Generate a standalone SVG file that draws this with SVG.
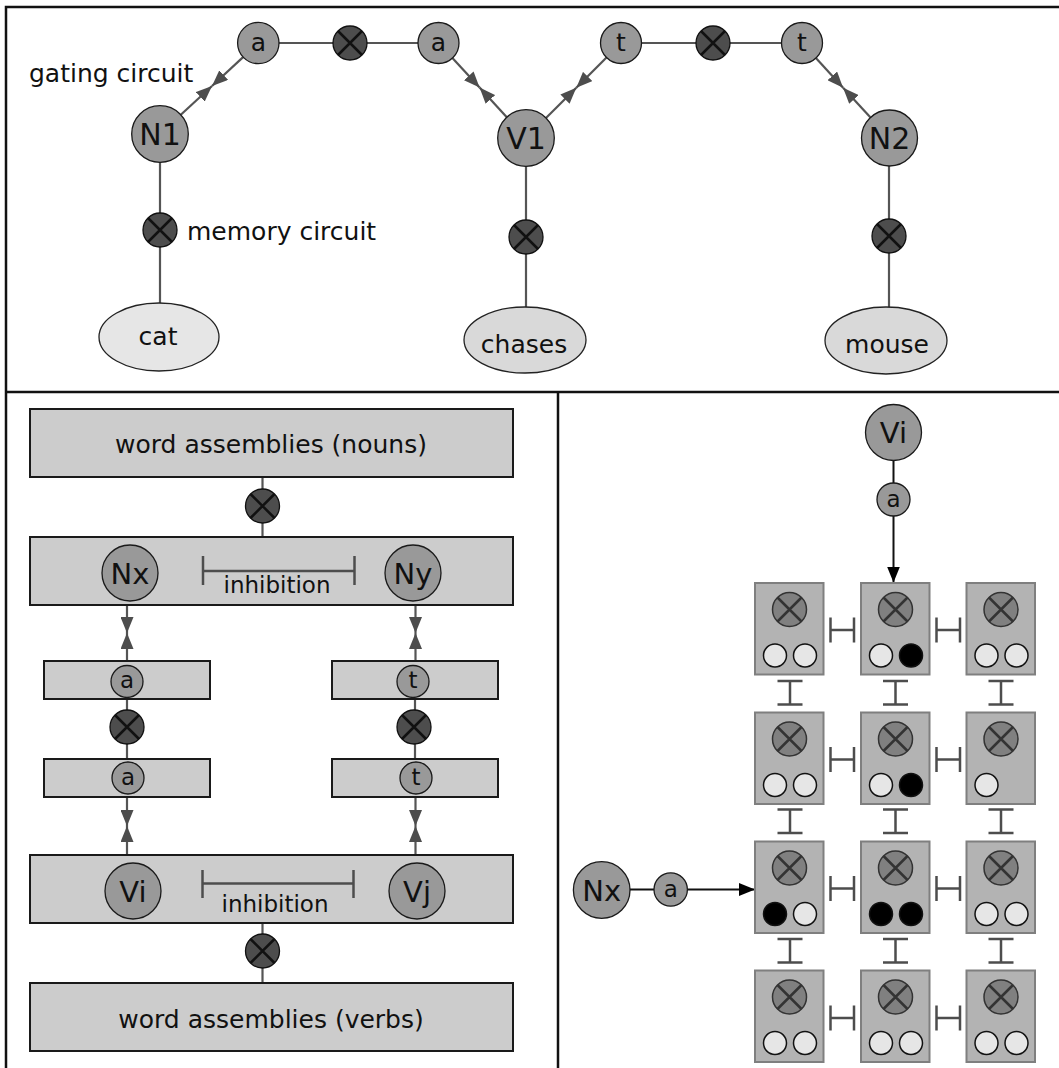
<svg xmlns="http://www.w3.org/2000/svg" xmlns:xlink="http://www.w3.org/1999/xlink" width="1059" height="1068" viewBox="0 0 1059 1068">
  <style>
    text { font-family: "DejaVu Sans", "Liberation Sans", sans-serif; fill: #111; text-anchor: middle; }
    .frame { stroke: #111; stroke-width: 2.5; fill: none; }
    .node { fill: #999999; stroke: #1a1a1a; stroke-width: 1.3; }
    .xdark { fill: #4d4d4d; stroke: #111; stroke-width: 1.3; }
    .xline { stroke: #111; stroke-width: 2.5; fill: none; }
    .xgrid { fill: #808080; stroke: #333; stroke-width: 1.5; }
    .xgline { stroke: #333; stroke-width: 2.5; fill: none; }
    .word { fill: #e6e6e6; stroke: #222; stroke-width: 1.3; }
    .word2 { fill: #d9d9d9; stroke: #222; stroke-width: 1.3; }
    .panel { fill: #cccccc; stroke: #1a1a1a; stroke-width: 2; }
    .link { stroke: #555; stroke-width: 2.2; fill: none; }
    .arr { stroke: #555; stroke-width: 2.2; fill: none; marker-end: url(#head); }
    .barr { stroke: #111; stroke-width: 2; fill: none; marker-end: url(#bhead); }
    .inh { stroke: #4d4d4d; stroke-width: 2.5; fill: none; }
    .cell { fill: #b3b3b3; stroke: #7f7f7f; stroke-width: 2; }
    .off { fill: #e6e6e6; stroke: #111; stroke-width: 1.5; }
    .on { fill: #000; stroke: #111; stroke-width: 1.5; }
    .big { font-size: 30px; }
    .mid { font-size: 29px; }
    .lbl { font-size: 25px; }
    .sm { font-size: 23px; }
  </style>
  <defs>
    <marker id="head" markerUnits="userSpaceOnUse" markerWidth="17" markerHeight="13" refX="16" refY="6.5" orient="auto">
      <path d="M0,0 L16,6.5 L0,13 Z" fill="#4d4d4d"/>
    </marker>
    <marker id="bhead" markerUnits="userSpaceOnUse" markerWidth="17" markerHeight="13" refX="16" refY="6.5" orient="auto">
      <path d="M0,0 L16,6.5 L0,13 Z" fill="#000"/>
    </marker>
    <!-- dark multiplicative gate -->
    <g id="xd">
      <circle r="17" class="xdark"/>
      <path d="M-12,-12 L12,12 M12,-12 L-12,12" class="xline"/>
    </g>
    <!-- gate inside a grid cell -->
    <g id="xg">
      <circle r="17" class="xgrid"/>
      <path d="M-12,-12 L12,12 M12,-12 L-12,12" class="xgline"/>
    </g>
    <!-- horizontal inhibition symbol -->
    <path id="hbar" d="M0,-12.5 V12.5 M0,0 H23.5 M23.5,-12.5 V12.5" class="inh"/>
    <!-- vertical inhibition symbol -->
    <path id="ibar" d="M-12.5,0 H12.5 M0,0 V23.5 M-12.5,23.5 H12.5" class="inh"/>
    <rect id="cellbox" width="68.5" height="91.5" class="cell"/>
  </defs>

  <!-- panel frame -->
  <g id="frame">
    <path d="M6,1068 V7 H1059" class="frame"/>
    <path d="M6,392 H1059 M558,392 V1068" class="frame" stroke-width="2.2"/>
  </g>

  <!-- connectors -->
  <g id="connectors">
    <!-- top: gating circuits -->
    <line x1="279" y1="43" x2="333" y2="43" class="link"/>
    <line x1="367" y1="43" x2="418" y2="43" class="link"/>
    <line x1="641.5" y1="43" x2="696" y2="43" class="link"/>
    <line x1="730" y1="43" x2="781.5" y2="43" class="link"/>
    <line x1="243.1" y1="57.1" x2="212" y2="86" class="arr"/>
    <line x1="180.8" y1="114.8" x2="212" y2="86" class="arr"/>
    <line x1="452.4" y1="58.1" x2="479.6" y2="87.6" class="arr"/>
    <line x1="506.8" y1="117.2" x2="479.6" y2="87.6" class="arr"/>
    <line x1="606.5" y1="57.5" x2="576.3" y2="87.8" class="arr"/>
    <line x1="546" y1="118" x2="576.3" y2="87.8" class="arr"/>
    <line x1="815.9" y1="58.1" x2="843.1" y2="87.7" class="arr"/>
    <line x1="870.3" y1="117.2" x2="843.1" y2="87.7" class="arr"/>
    <!-- top: memory circuits -->
    <line x1="160" y1="162" x2="160" y2="213" class="link"/>
    <line x1="160" y1="247" x2="160" y2="303" class="link"/>
    <line x1="526" y1="166" x2="526" y2="220" class="link"/>
    <line x1="526" y1="254" x2="526" y2="307" class="link"/>
    <line x1="889" y1="166" x2="889" y2="219" class="link"/>
    <line x1="889" y1="253" x2="889" y2="307" class="link"/>
    <!-- left panel -->
    <line x1="262.5" y1="477" x2="262.5" y2="537" class="link"/>
    <line x1="262.5" y1="923" x2="262.5" y2="983" class="link"/>
    <line x1="127" y1="697" x2="127" y2="762" class="link"/>
    <line x1="415" y1="697" x2="415" y2="762" class="link"/>
    <line x1="127" y1="605" x2="127" y2="633" class="arr"/>
    <line x1="127" y1="661" x2="127" y2="633" class="arr"/>
    <line x1="415.5" y1="605" x2="415.5" y2="633" class="arr"/>
    <line x1="415.5" y1="661" x2="415.5" y2="633" class="arr"/>
    <line x1="127" y1="797" x2="127" y2="826" class="arr"/>
    <line x1="127" y1="855" x2="127" y2="826" class="arr"/>
    <line x1="415.5" y1="797" x2="415.5" y2="826" class="arr"/>
    <line x1="415.5" y1="855" x2="415.5" y2="826" class="arr"/>
    <!-- right panel -->
    <line x1="893.5" y1="460.5" x2="893.5" y2="483" stroke="#111" stroke-width="2"/>
    <line x1="893.5" y1="516" x2="893.5" y2="582.5" class="barr"/>
    <line x1="630" y1="889.5" x2="654" y2="889.5" stroke="#111" stroke-width="2"/>
    <line x1="687.4" y1="889.5" x2="755" y2="889.5" class="barr"/>
  </g>

  <!-- top panel nodes -->
  <g id="gate-a1"><circle cx="258.3" cy="43" r="20.7" class="node"/><text x="258.3" y="51" class="lbl">a</text></g>
  <g id="mem-a"><use xlink:href="#xd" x="350" y="43"/></g>
  <g id="gate-a2"><circle cx="438.5" cy="43" r="20.5" class="node"/><text x="438.5" y="51" class="lbl">a</text></g>
  <g id="gate-t1"><circle cx="621" cy="43" r="20.5" class="node"/><text x="621" y="51" class="lbl">t</text></g>
  <g id="mem-t"><use xlink:href="#xd" x="713" y="43"/></g>
  <g id="gate-t2"><circle cx="802" cy="43" r="20.5" class="node"/><text x="802" y="51" class="lbl">t</text></g>
  <g id="label-gating"><text x="29" y="82" class="lbl" style="text-anchor:start">gating circuit</text></g>

  <g id="N1"><circle cx="160" cy="134" r="28.3" class="node"/><text x="160" y="145" class="big">N1</text></g>
  <g id="V1"><circle cx="526" cy="138" r="28.3" class="node"/><text x="526" y="149" class="big">V1</text></g>
  <g id="N2"><circle cx="889.5" cy="138" r="28" class="node"/><text x="889.5" y="149" class="big">N2</text></g>

  <g id="mem-cat"><use xlink:href="#xd" x="160" y="230"/></g>
  <g id="label-memory"><text x="187" y="240" class="lbl" style="text-anchor:start">memory circuit</text></g>
  <g id="mem-chases"><use xlink:href="#xd" x="526" y="237"/></g>
  <g id="mem-mouse"><use xlink:href="#xd" x="889" y="236"/></g>

  <g id="cat"><ellipse cx="159" cy="337" rx="60" ry="34" class="word"/><text x="158" y="345" class="lbl">cat</text></g>
  <g id="chases"><ellipse cx="525" cy="340" rx="61" ry="33" class="word2"/><text x="524" y="353" class="lbl">chases</text></g>
  <g id="mouse"><ellipse cx="886" cy="340.5" rx="61" ry="33.5" class="word2"/><text x="887" y="353" class="lbl">mouse</text></g>

  <!-- left panel nodes -->
  <g id="nouns"><rect x="30" y="409" width="483" height="68" class="panel"/><text x="271" y="453" class="lbl">word assemblies (nouns)</text></g>
  <g id="mem-nouns"><use xlink:href="#xd" x="262.5" y="506"/></g>
  <g id="noun-layer">
    <rect x="30" y="537" width="483" height="68" class="panel"/>
    <circle cx="130" cy="573" r="28" class="node"/><text x="130" y="584" class="mid">Nx</text>
    <circle cx="413" cy="573" r="28" class="node"/><text x="413" y="584" class="mid">Ny</text>
    <path d="M203,556 V585 M203,571 H354.5 M354.5,556 V585" class="inh"/>
    <text x="277" y="593" class="sm">inhibition</text>
  </g>
  <g id="agent-top"><rect x="44" y="661" width="166" height="38" class="panel"/><circle cx="127" cy="681.5" r="16" class="node"/><text x="127" y="688" class="sm">a</text></g>
  <g id="mem-agent"><use xlink:href="#xd" x="127" y="727"/></g>
  <g id="agent-bottom"><rect x="44" y="759" width="166" height="38" class="panel"/><circle cx="128" cy="778" r="16" class="node"/><text x="128" y="785" class="sm">a</text></g>
  <g id="theme-top"><rect x="332" y="661" width="166" height="38" class="panel"/><circle cx="413" cy="681.5" r="16" class="node"/><text x="413" y="688" class="sm">t</text></g>
  <g id="mem-theme"><use xlink:href="#xd" x="414" y="727"/></g>
  <g id="theme-bottom"><rect x="332" y="759" width="166" height="38" class="panel"/><circle cx="416" cy="778" r="16" class="node"/><text x="416" y="785" class="sm">t</text></g>
  <g id="verb-layer">
    <rect x="30" y="855" width="483" height="68" class="panel"/>
    <circle cx="133" cy="891" r="28" class="node"/><text x="133" y="902" class="mid">Vi</text>
    <circle cx="417" cy="891" r="28" class="node"/><text x="417" y="902" class="mid">Vj</text>
    <path d="M202.5,870 V898 M202.5,883.5 H353.5 M353.5,870 V898" class="inh"/>
    <text x="275" y="912" class="sm">inhibition</text>
  </g>
  <g id="mem-verbs"><use xlink:href="#xd" x="262.5" y="951"/></g>
  <g id="verbs"><rect x="30" y="983" width="483" height="68" class="panel"/><text x="271" y="1028" class="lbl">word assemblies (verbs)</text></g>

  <!-- right panel nodes -->
  <g id="Vi-right"><circle cx="893.5" cy="432.5" r="28" class="node"/><text x="893.5" y="443" class="mid">Vi</text></g>
  <g id="a-vi"><circle cx="893.5" cy="499.5" r="16.5" class="node"/><text x="893.5" y="507" class="sm">a</text></g>
  <g id="Nx-right"><circle cx="601.7" cy="890" r="28.3" class="node"/><text x="601.7" y="901" class="mid">Nx</text></g>
  <g id="a-nx"><circle cx="670.7" cy="889.5" r="16.7" class="node"/><text x="670.7" y="897" class="sm">a</text></g>

  <!-- binding grid: rows at y 583 / 712.5 / 841.5 / 970.5, columns at x 755 / 861 / 966.5 -->
  <g id="cell-1-1"><use xlink:href="#cellbox" x="755" y="583"/><use xlink:href="#xg" x="789.5" y="609.5"/><circle cx="775" cy="655.5" r="11.5" class="off"/><circle cx="805" cy="655.5" r="11.5" class="off"/></g>
  <g id="cell-1-2"><use xlink:href="#cellbox" x="861" y="583"/><use xlink:href="#xg" x="895.5" y="609.5"/><circle cx="881" cy="655.5" r="11.5" class="off"/><circle cx="911" cy="655.5" r="11.5" class="on"/></g>
  <g id="cell-1-3"><use xlink:href="#cellbox" x="966.5" y="583"/><use xlink:href="#xg" x="1001" y="609.5"/><circle cx="986.5" cy="655.5" r="11.5" class="off"/><circle cx="1016.5" cy="655.5" r="11.5" class="off"/></g>

  <g id="cell-2-1"><use xlink:href="#cellbox" x="755" y="712.5"/><use xlink:href="#xg" x="789.5" y="739"/><circle cx="775" cy="785" r="11.5" class="off"/><circle cx="805" cy="785" r="11.5" class="off"/></g>
  <g id="cell-2-2"><use xlink:href="#cellbox" x="861" y="712.5"/><use xlink:href="#xg" x="895.5" y="739"/><circle cx="881" cy="785" r="11.5" class="off"/><circle cx="911" cy="785" r="11.5" class="on"/></g>
  <g id="cell-2-3"><use xlink:href="#cellbox" x="966.5" y="712.5"/><use xlink:href="#xg" x="1001" y="739"/><circle cx="986.5" cy="785" r="11.5" class="off"/></g>

  <g id="cell-3-1"><use xlink:href="#cellbox" x="755" y="841.5"/><use xlink:href="#xg" x="789.5" y="868"/><circle cx="775" cy="914" r="11.5" class="on"/><circle cx="805" cy="914" r="11.5" class="off"/></g>
  <g id="cell-3-2"><use xlink:href="#cellbox" x="861" y="841.5"/><use xlink:href="#xg" x="895.5" y="868"/><circle cx="881" cy="914" r="11.5" class="on"/><circle cx="911" cy="914" r="11.5" class="on"/></g>
  <g id="cell-3-3"><use xlink:href="#cellbox" x="966.5" y="841.5"/><use xlink:href="#xg" x="1001" y="868"/><circle cx="986.5" cy="914" r="11.5" class="off"/><circle cx="1016.5" cy="914" r="11.5" class="off"/></g>

  <g id="cell-4-1"><use xlink:href="#cellbox" x="755" y="970.5"/><use xlink:href="#xg" x="789.5" y="997"/><circle cx="775" cy="1043" r="11.5" class="off"/><circle cx="805" cy="1043" r="11.5" class="off"/></g>
  <g id="cell-4-2"><use xlink:href="#cellbox" x="861" y="970.5"/><use xlink:href="#xg" x="895.5" y="997"/><circle cx="881" cy="1043" r="11.5" class="off"/><circle cx="911" cy="1043" r="11.5" class="off"/></g>
  <g id="cell-4-3"><use xlink:href="#cellbox" x="966.5" y="970.5"/><use xlink:href="#xg" x="1001" y="997"/><circle cx="986.5" cy="1043" r="11.5" class="off"/><circle cx="1016.5" cy="1043" r="11.5" class="off"/></g>

  <!-- inhibition between neighbouring cells -->
  <g id="grid-inhibition">
    <use xlink:href="#hbar" x="830.5" y="630"/><use xlink:href="#hbar" x="936.5" y="630"/>
    <use xlink:href="#hbar" x="830.5" y="759.5"/><use xlink:href="#hbar" x="936.5" y="759.5"/>
    <use xlink:href="#hbar" x="830.5" y="888.5"/><use xlink:href="#hbar" x="936.5" y="888.5"/>
    <use xlink:href="#hbar" x="830.5" y="1018"/><use xlink:href="#hbar" x="936.5" y="1018"/>
    <use xlink:href="#ibar" x="790" y="681"/><use xlink:href="#ibar" x="895.5" y="681"/><use xlink:href="#ibar" x="1001" y="681"/>
    <use xlink:href="#ibar" x="790" y="809.5"/><use xlink:href="#ibar" x="895.5" y="809.5"/><use xlink:href="#ibar" x="1001" y="809.5"/>
    <use xlink:href="#ibar" x="790" y="939"/><use xlink:href="#ibar" x="895.5" y="939"/><use xlink:href="#ibar" x="1001" y="939"/>
  </g>
</svg>
